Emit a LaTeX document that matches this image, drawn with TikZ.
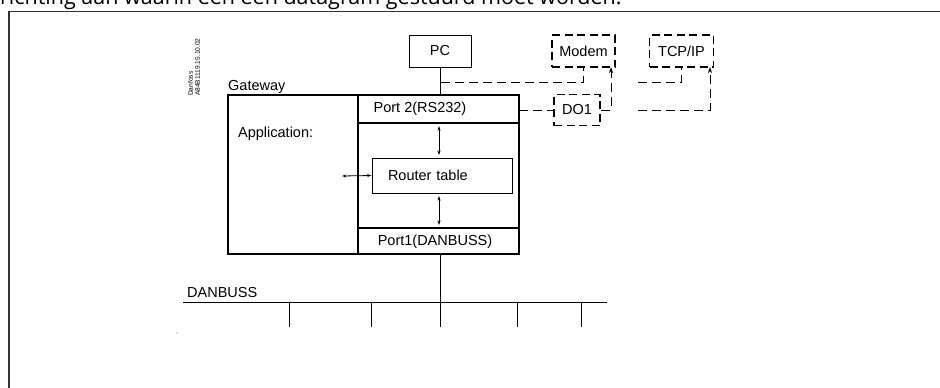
\documentclass[tikz,border=0pt]{standalone}
\usepackage{fontspec}
\setmainfont{Liberation Sans}
\newfontfamily\topfont{Open Sans}
\usetikzlibrary{arrows.meta}
\begin{document}
\begin{tikzpicture}[x=1pt,y=-1pt,
  lbl/.style={inner sep=0pt, font=\fontsize{14.5}{16}\selectfont},
  solidbox/.style={draw, line width=1pt, inner sep=0pt, font=\fontsize{14.5}{16}\selectfont},
  dashbox/.style={draw, line width=1.9pt, dash pattern=on 8pt off 4.5pt, inner sep=0pt, font=\fontsize{14.5}{16}\selectfont},
  dconn/.style={line width=0.9pt, dash pattern=on 9pt off 5pt},
  thick line/.style={line width=2pt},
  dbl/.style={line width=0.8pt, {Stealth[length=4.5pt,width=3pt]}-{Stealth[length=4.5pt,width=3pt]}},
  tip/.style={-{Stealth[length=6pt,width=4pt]}}
]
\useasboundingbox (0,0) rectangle (940,388);
\clip (0,0) rectangle (940,388);
% page remnants
\node[anchor=base west, inner sep=0pt, font=\topfont\fontsize{21.5}{24}\selectfont] (title) at (0,5) {richting aan waarin een een datagram gestuurd moet worden.};
\draw[line width=1.5pt, black!80] (9,400) -- (9,11.5) -- (950,11.5);
% label
\node[rotate=90, anchor=west, align=left, inner sep=0pt, font=\fontsize{6.6}{6.8}\selectfont] (code) at (194,96) {Danfoss\\A84B1119.15.10.02};
% gateway
\node[draw, line width=1.2pt, minimum width=291pt, minimum height=159pt, inner sep=0pt] (gw) at (373.5,174.5) {};
\node[lbl, anchor=base west] (gwl) at (228,90) {Gateway};
\node[lbl, anchor=base west] (app) at (238,137) {Application:};
\node[minimum width=161pt, minimum height=28pt, inner sep=0pt] (port2) at (438.5,109) {};
\node[lbl] (p2t) at (420,109) {Port 2(RS232)};
\node[minimum width=161pt, minimum height=26pt, inner sep=0pt] (port1) at (438.5,241) {};
\node[lbl] (p1t) at (435,242) {Port1(DANBUSS)};
\draw[thick line] (358,95) -- (358,254);
\draw[thick line] (port2.south west) -- (port2.south east);
\draw[thick line] (port1.north west) -- (port1.north east);
\node[solidbox, minimum width=140pt, minimum height=35pt, inner xsep=16pt, text width=108pt, align=left] (router) at (442,175.5) {Router table};
\coordinate (a1) at (439,126);
\coordinate (a2) at (439,155);
\coordinate (a3) at (439,196);
\coordinate (a4) at (439,225);
\draw[dbl] (a1) -- (a2);
\draw[dbl] (a3) -- (a4);
\coordinate (h1) at (342,176);
\draw[dbl] (h1) -- (router.west);
% top devices
\node[solidbox, minimum width=62pt, minimum height=32pt] (pc) at (440,51) {PC};
\node[dashbox, minimum width=63pt, minimum height=32pt] (modem) at (583.5,51) {Modem};
\node[dashbox, minimum width=64pt, minimum height=32pt] (tcpip) at (681.5,51) {TCP/IP};
\node[dashbox, minimum width=46pt, minimum height=31pt] (do1) at (577,110) {DO1};
\draw[line width=1pt] (pc.south) -- (pc.south |- port2.north);
\coordinate (j1) at (441,82);
\draw[dconn] (j1) -| (modem.south);
\coordinate (m1) at (611,67);
\draw[dconn, tip] (do1.east) -| (m1);
\draw[dconn] (port2.east |- do1.west) -- (do1.west);
\coordinate (t1) at (638,82);
\draw[dconn] (t1) -| (tcpip.south);
\coordinate (t2) at (638,110);
\coordinate (t3) at (710,67);
\draw[dconn, tip] (t2) -| (t3);
% bus
\coordinate (b1) at (183,302);
\coordinate (b2) at (607,302);
\draw[line width=1pt] (b1) -- (b2);
\node[lbl, anchor=base west] (busl) at (187,297) {DANBUSS};
\coordinate (g1) at (440,254);
\coordinate (g2) at (440,327);
\draw[line width=1pt] (g1) -- (g2);
\foreach \x in {289,371,517,581} \draw[line width=0.9pt] (\x,302) -- (\x,327);
\fill[black!60] (177,333) circle (0.7pt);
\end{tikzpicture}
\end{document}
